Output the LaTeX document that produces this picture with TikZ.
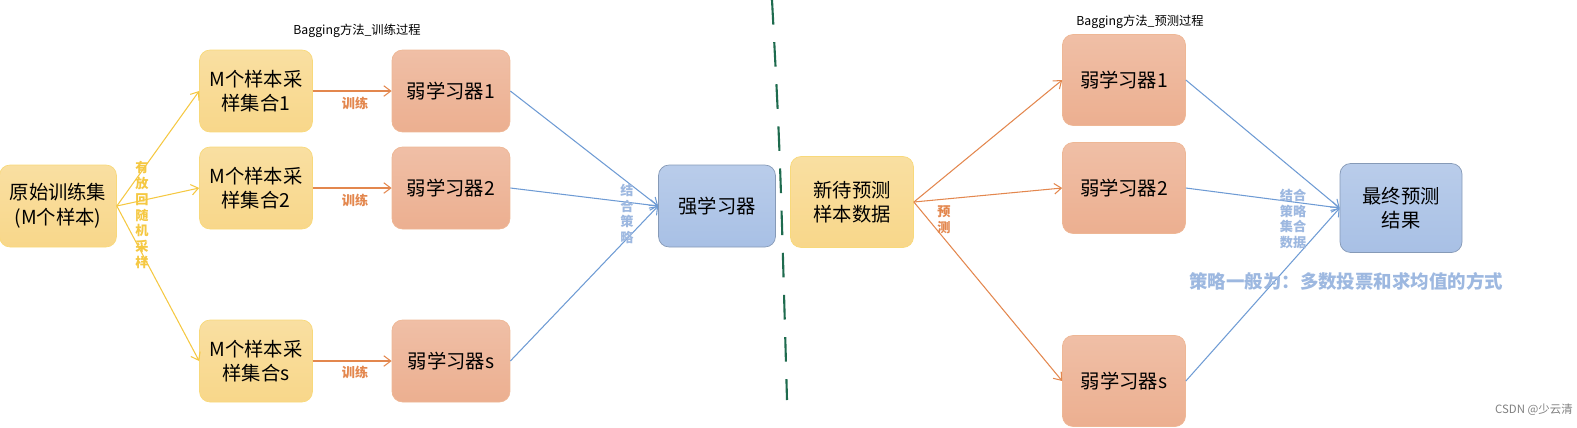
\documentclass[tikz,border=0pt]{standalone}
\usepackage{fontspec}
\setmainfont{Noto Sans CJK SC}
\usetikzlibrary{arrows.meta}
\definecolor{ybox}{HTML}{F8D78A}
\definecolor{yline}{HTML}{F5C842}
\definecolor{obox}{HTML}{ECAF90}
\definecolor{oline}{HTML}{E3874E}
\definecolor{bbox}{HTML}{A8C0E5}
\definecolor{bline}{HTML}{6E9BD4}
\definecolor{lbtext}{HTML}{9DB8E0}
\definecolor{dgreen}{HTML}{1E6B4E}
\tikzset{
  box/.style={rounded corners=6pt, minimum width=2.3cm, minimum height=1.64cm,
    align=center, font=\fontsize{11}{14}\selectfont, inner sep=1pt},
  ybox/.style={box, draw=yline!70, top color=ybox!80!white, bottom color=ybox},
  obox/.style={box, draw=oline!60, top color=obox!80!white, bottom color=obox},
  bbox/.style={box, draw=bbox!80!black, top color=bbox!80!white, bottom color=bbox},
  arr/.style={-{Straight Barb[length=4pt,width=6pt]}, line width=0.6pt},
  vlab/.style={align=center, font=\fontsize{7.5}{9}\selectfont\bfseries, inner sep=0pt},
}
\begin{document}
\begin{tikzpicture}[x=0.02cm, y=-0.02cm]
    \useasboundingbox (0,0) rectangle (1577,427);

    % Training process
    \node[ybox, minimum width=2.34cm] (orig) at (58,206) {原始训练集\\(M个样本)};
    \node[ybox, minimum width=2.26cm] (samp1) at (256,91) {M个样本采\\样集合1};
    \node[ybox, minimum width=2.26cm] (samp2) at (256,188) {M个样本采\\样集合2};
    \node[ybox, minimum width=2.26cm] (samps) at (256,361) {M个样本采\\样集合s};
    \node[obox, minimum width=2.36cm] (weak1) at (451,91) {弱学习器1};
    \node[obox, minimum width=2.36cm] (weak2) at (451,188) {弱学习器2};
    \node[obox, minimum width=2.36cm] (weaks) at (451,361) {弱学习器s};
    \node[bbox, minimum width=2.34cm] (strong) at (717,206) {强学习器};
    \node[font=\fontsize{7}{8}\selectfont] (title1) at (357,31) {Bagging方法\_训练过程};

    \foreach \s in {samp1,samp2,samps}
        \draw[arr, yline] (orig.east) -- (\s.west);
    \draw[arr, oline] (samp1) -- (weak1);
    \draw[arr, oline] (samp2) -- (weak2);
    \draw[arr, oline] (samps) -- (weaks);
    \foreach \w in {weak1,weak2,weaks}
        \draw[arr, bline] (\w.east) -- (strong.west);

    \node[vlab, text=yline] (lab1) at (142,215) {有\\放\\回\\随\\机\\采\\样};
    \node[vlab, text=oline] (tr1) at (355,103) {训练};
    \node[vlab, text=oline] (tr2) at (355,200) {训练};
    \node[vlab, text=oline] (trs) at (355,372) {训练};
    \node[vlab, text=lbtext] (lab2) at (627,214) {结\\合\\策\\略};

    % Separator
    \draw[dgreen, line width=1.2pt, dash pattern=on 14pt off 10pt] (772,0) .. controls (780,150) .. (787,400);

    % Prediction process
    \node[ybox, minimum width=2.46cm, minimum height=1.82cm] (new) at (852,202) {新待预测\\样本数据};
    \node[obox, minimum width=2.46cm, minimum height=1.82cm] (pweak1) at (1124,80) {弱学习器1};
    \node[obox, minimum width=2.46cm, minimum height=1.82cm] (pweak2) at (1124,188) {弱学习器2};
    \node[obox, minimum width=2.46cm, minimum height=1.82cm] (pweaks) at (1124,381) {弱学习器s};
    \node[bbox, minimum width=2.44cm, minimum height=1.78cm] (final) at (1401,208) {最终预测\\结果};
    \node[font=\fontsize{7}{8}\selectfont] (title2) at (1140,22) {Bagging方法\_预测过程};

    \foreach \w in {pweak1,pweak2,pweaks}
        \draw[arr, oline] (new.east) -- (\w.west);
    \foreach \w in {pweak1,pweak2,pweaks}
        \draw[arr, bline] (\w.east) -- (final.west);

    \node[vlab, text=oline] (lab3) at (944,220) {预\\测};
    \node[vlab, text=lbtext] (lab4) at (1293,219) {结合\\策略\\集合\\数据};
    \node[text=lbtext, font=\fontsize{10.5}{12}\selectfont\bfseries, anchor=west, inner sep=0pt] (note) at (1189,281) {策略一般为：多数投票和求均值的方式};
    \node[text=gray, font=\fontsize{6.5}{8}\selectfont, anchor=east, inner sep=0pt] (csdn) at (1573,410) {CSDN @少云清};
\end{tikzpicture}
\end{document}
